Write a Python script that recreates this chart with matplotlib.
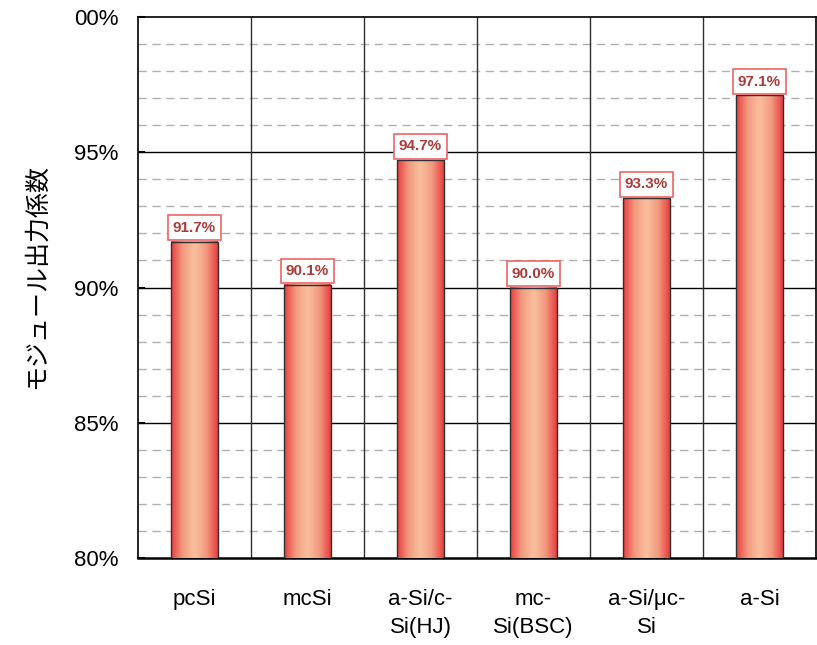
import numpy as np
import matplotlib.pyplot as plt
from matplotlib.colors import LinearSegmentedColormap

# Data
categories = ['pcSi', 'mcSi', 'a-Si/c-\nSi(HJ)', 'mc-\nSi(BSC)', 'a-Si/μc-\nSi', 'a-Si']
values = [91.7, 90.1, 94.7, 90.0, 93.3, 97.1]
value_labels = ['91.7%', '90.1%', '94.7%', '90.0%', '93.3%', '97.1%']
y_ticks = [80, 85, 90, 95, 100]
y_tick_labels = ['80%', '85%', '90%', '95%', '00%']

plt.rcParams['font.family'] = ['Liberation Sans', 'Noto Sans CJK JP', 'DejaVu Sans']

fig = plt.figure(figsize=(8.17, 6.45), dpi=100)
ax = fig.add_axes([138 / 817, 87 / 645, 678 / 817, 541 / 645])

# horizontal gradient: red edges, peach centre
cmap = LinearSegmentedColormap.from_list('barfill', ['#e84040', '#f39a80', '#f9be9c', '#f39a80', '#e84040'])
grad = np.linspace(0, 1, 46).reshape(1, -1)

bar_w = 0.41
x = np.arange(len(categories))
bars = ax.bar(x, values, width=bar_w, bottom=0, facecolor='none', edgecolor='#303030', linewidth=1.0, zorder=4)
for b in bars:
    x0, w, h = b.get_x(), b.get_width(), b.get_height()
    ax.imshow(grad, cmap=cmap, aspect='auto', extent=[x0, x0 + w, 80, h], zorder=3, interpolation='nearest')

for xi, v, lab in zip(x, values, value_labels):
    ax.annotate(lab, (xi, v), xytext=(0, 5), textcoords='offset points', ha='center', va='bottom',
                fontsize=11, fontweight='bold', color='#ae3a3a', zorder=6,
                bbox=dict(boxstyle='square,pad=0.35', facecolor='white', edgecolor='#ee6565', linewidth=1.2))

ax.set_xlim(-0.5, len(categories) - 0.5)
ax.set_ylim(80, 100)

# grid
for yv in np.arange(81, 100):
    if yv % 5 == 0:
        ax.axhline(yv, color='black', linewidth=1.0, zorder=1)
    else:
        ax.axhline(yv, color='#b0b0b0', linewidth=1.0, linestyle=(0, (6, 4)), zorder=1)
for xv in np.arange(0.5, len(categories) - 0.5):
    ax.axvline(xv, color='#303030', linewidth=1.0, zorder=1)

ax.set_yticks(y_ticks)
ax.set_yticklabels(y_tick_labels, fontsize=16)
ax.set_xticks(x)
ax.set_xticklabels(categories, fontsize=16, linespacing=1.45)
ax.tick_params(axis='x', length=0, pad=22)
ax.tick_params(axis='y', length=5, direction='in', width=1.5, pad=14)

for s in ax.spines.values():
    s.set_linewidth(1.2)
    s.set_color('black')
ax.spines['bottom'].set_linewidth(1.8)

ax.set_ylabel('モジュール出力係数', fontsize=18, family=['Noto Sans CJK JP', 'DejaVu Sans'])
ax.yaxis.set_label_coords(-0.13, 0.52)

fig.savefig('out.png', dpi=100)
